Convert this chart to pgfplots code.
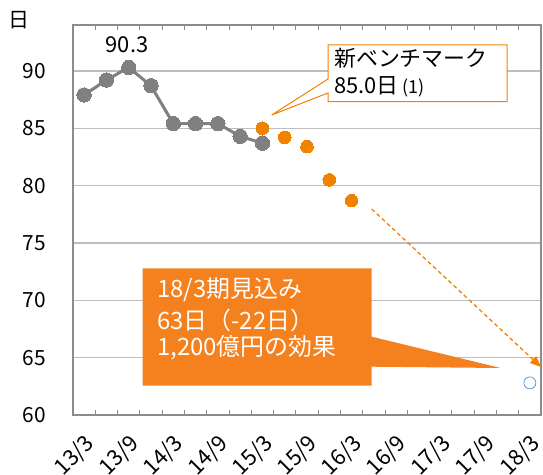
\documentclass[border=0pt]{standalone}
\usepackage{pgfplots}
\pgfplotsset{compat=1.18}
\usepackage{fontspec}
\setmainfont{Noto Sans CJK JP}
\usetikzlibrary{arrows.meta}
\definecolor{axgray}{RGB}{140,140,140}
\definecolor{gridgray}{RGB}{190,190,190}
\definecolor{ser}{RGB}{128,128,128}
\definecolor{dotor}{RGB}{240,130,0}
\definecolor{boxor}{RGB}{244,128,30}
\definecolor{lblue}{RGB}{91,155,213}
\begin{document}
\begin{tikzpicture}
\useasboundingbox (-73bp,-60bp) rectangle (470bp,415bp);
\begin{axis}[at={(0,0)}, anchor=south west, scale only axis, width=468bp, height=390bp,
 xmin=-0.5, xmax=20.5, ymin=60, ymax=94,
 axis line style={axgray, line width=2.5bp},
 ytick={60,65,...,90}, ymajorgrids, grid style={gridgray, line width=1.3bp},
 xtick={0,2,...,20}, xticklabels={13/3,13/9,14/3,14/9,15/3,15/9,16/3,16/9,17/3,17/9,18/3},
 minor xtick={0.5,1.5,...,19.5},
 major tick length=0pt, minor tick length=5bp, tick align=inside,
 minor tick style={axgray, line width=1bp},
 tick label style={font=\fontsize{21}{24}\selectfont},
 /pgf/number format/assume math mode=true,
 yticklabel style={anchor=east, inner sep=0pt, xshift=-27bp},
 xticklabel style={xshift=-1bp, yshift=-17bp, rotate=45, anchor=north east, inner sep=0pt, font=\fontsize{22}{24}\selectfont},
 clip=false,
]
\addplot[ser, line width=3bp, mark=*, mark size=7.2bp, mark options={fill=ser, draw=ser, line width=0pt}]
 coordinates {(0,87.9)(1,89.2)(2,90.3)(3,88.7)(4,85.4)(5,85.4)(6,85.4)(7,84.3)(8,83.7)};
\addplot[only marks, mark=*, mark size=6.3bp, mark options={fill=dotor, draw=dotor, line width=0pt}]
 coordinates {(8,85.0)(9,84.2)(10,83.4)(11,80.5)(12,78.7)};
\addplot[only marks, mark=o, mark size=6bp, mark options={draw=lblue, line width=0.8bp}]
 coordinates {(20,62.8)};
\end{axis}
% data label
\node[font=\fontsize{22}{24}\selectfont] at (54bp,370bp) {90.3};
\node[font=\fontsize{21}{24}\selectfont] at (-54bp,395bp) {日};
% dashed arrow
\draw[dotor, line width=1.3bp, dash pattern=on 4bp off 3bp, -{Triangle[length=11bp,width=9bp]}] (298.7bp,206bp) -- (468bp,48bp);
% callout 1
\filldraw[fill=white, draw=dotor, line width=1bp] (255bp,370bp) -- (434bp,370bp) -- (434bp,313.3bp) -- (255bp,313.3bp) -- (255bp,322bp) -- (198.7bp,300bp) -- (255bp,336bp) -- cycle;
\node[anchor=west, inner sep=0pt, font=\fontsize{22}{24}\selectfont] at (261bp,357bp) {新ベンチマーク};
\node[anchor=west, inner sep=0pt, font=\fontsize{22}{24}\selectfont] at (261bp,328bp) {85.0日\,{\fontsize{18}{20}\selectfont (1)}};
% callout 2
\fill[boxor] (69.7bp,146.7bp) -- (298.7bp,146.7bp) -- (298.7bp,78.3bp) -- (427.7bp,47bp) -- (298.7bp,48.3bp) -- (298.7bp,29.3bp) -- (69.7bp,29.3bp) -- cycle;
\node[anchor=west, inner sep=0pt, text=white, font=\fontsize{24}{26}\selectfont] at (84bp,125bp) {18/3期見込み};
\node[anchor=west, inner sep=0pt, text=white, font=\fontsize{24}{26}\selectfont] at (84bp,95bp) {63日（-22日）};
\node[anchor=west, inner sep=0pt, text=white, font=\fontsize{24}{26}\selectfont] at (84bp,67bp) {1,200億円の効果};
\end{tikzpicture}
\end{document}
